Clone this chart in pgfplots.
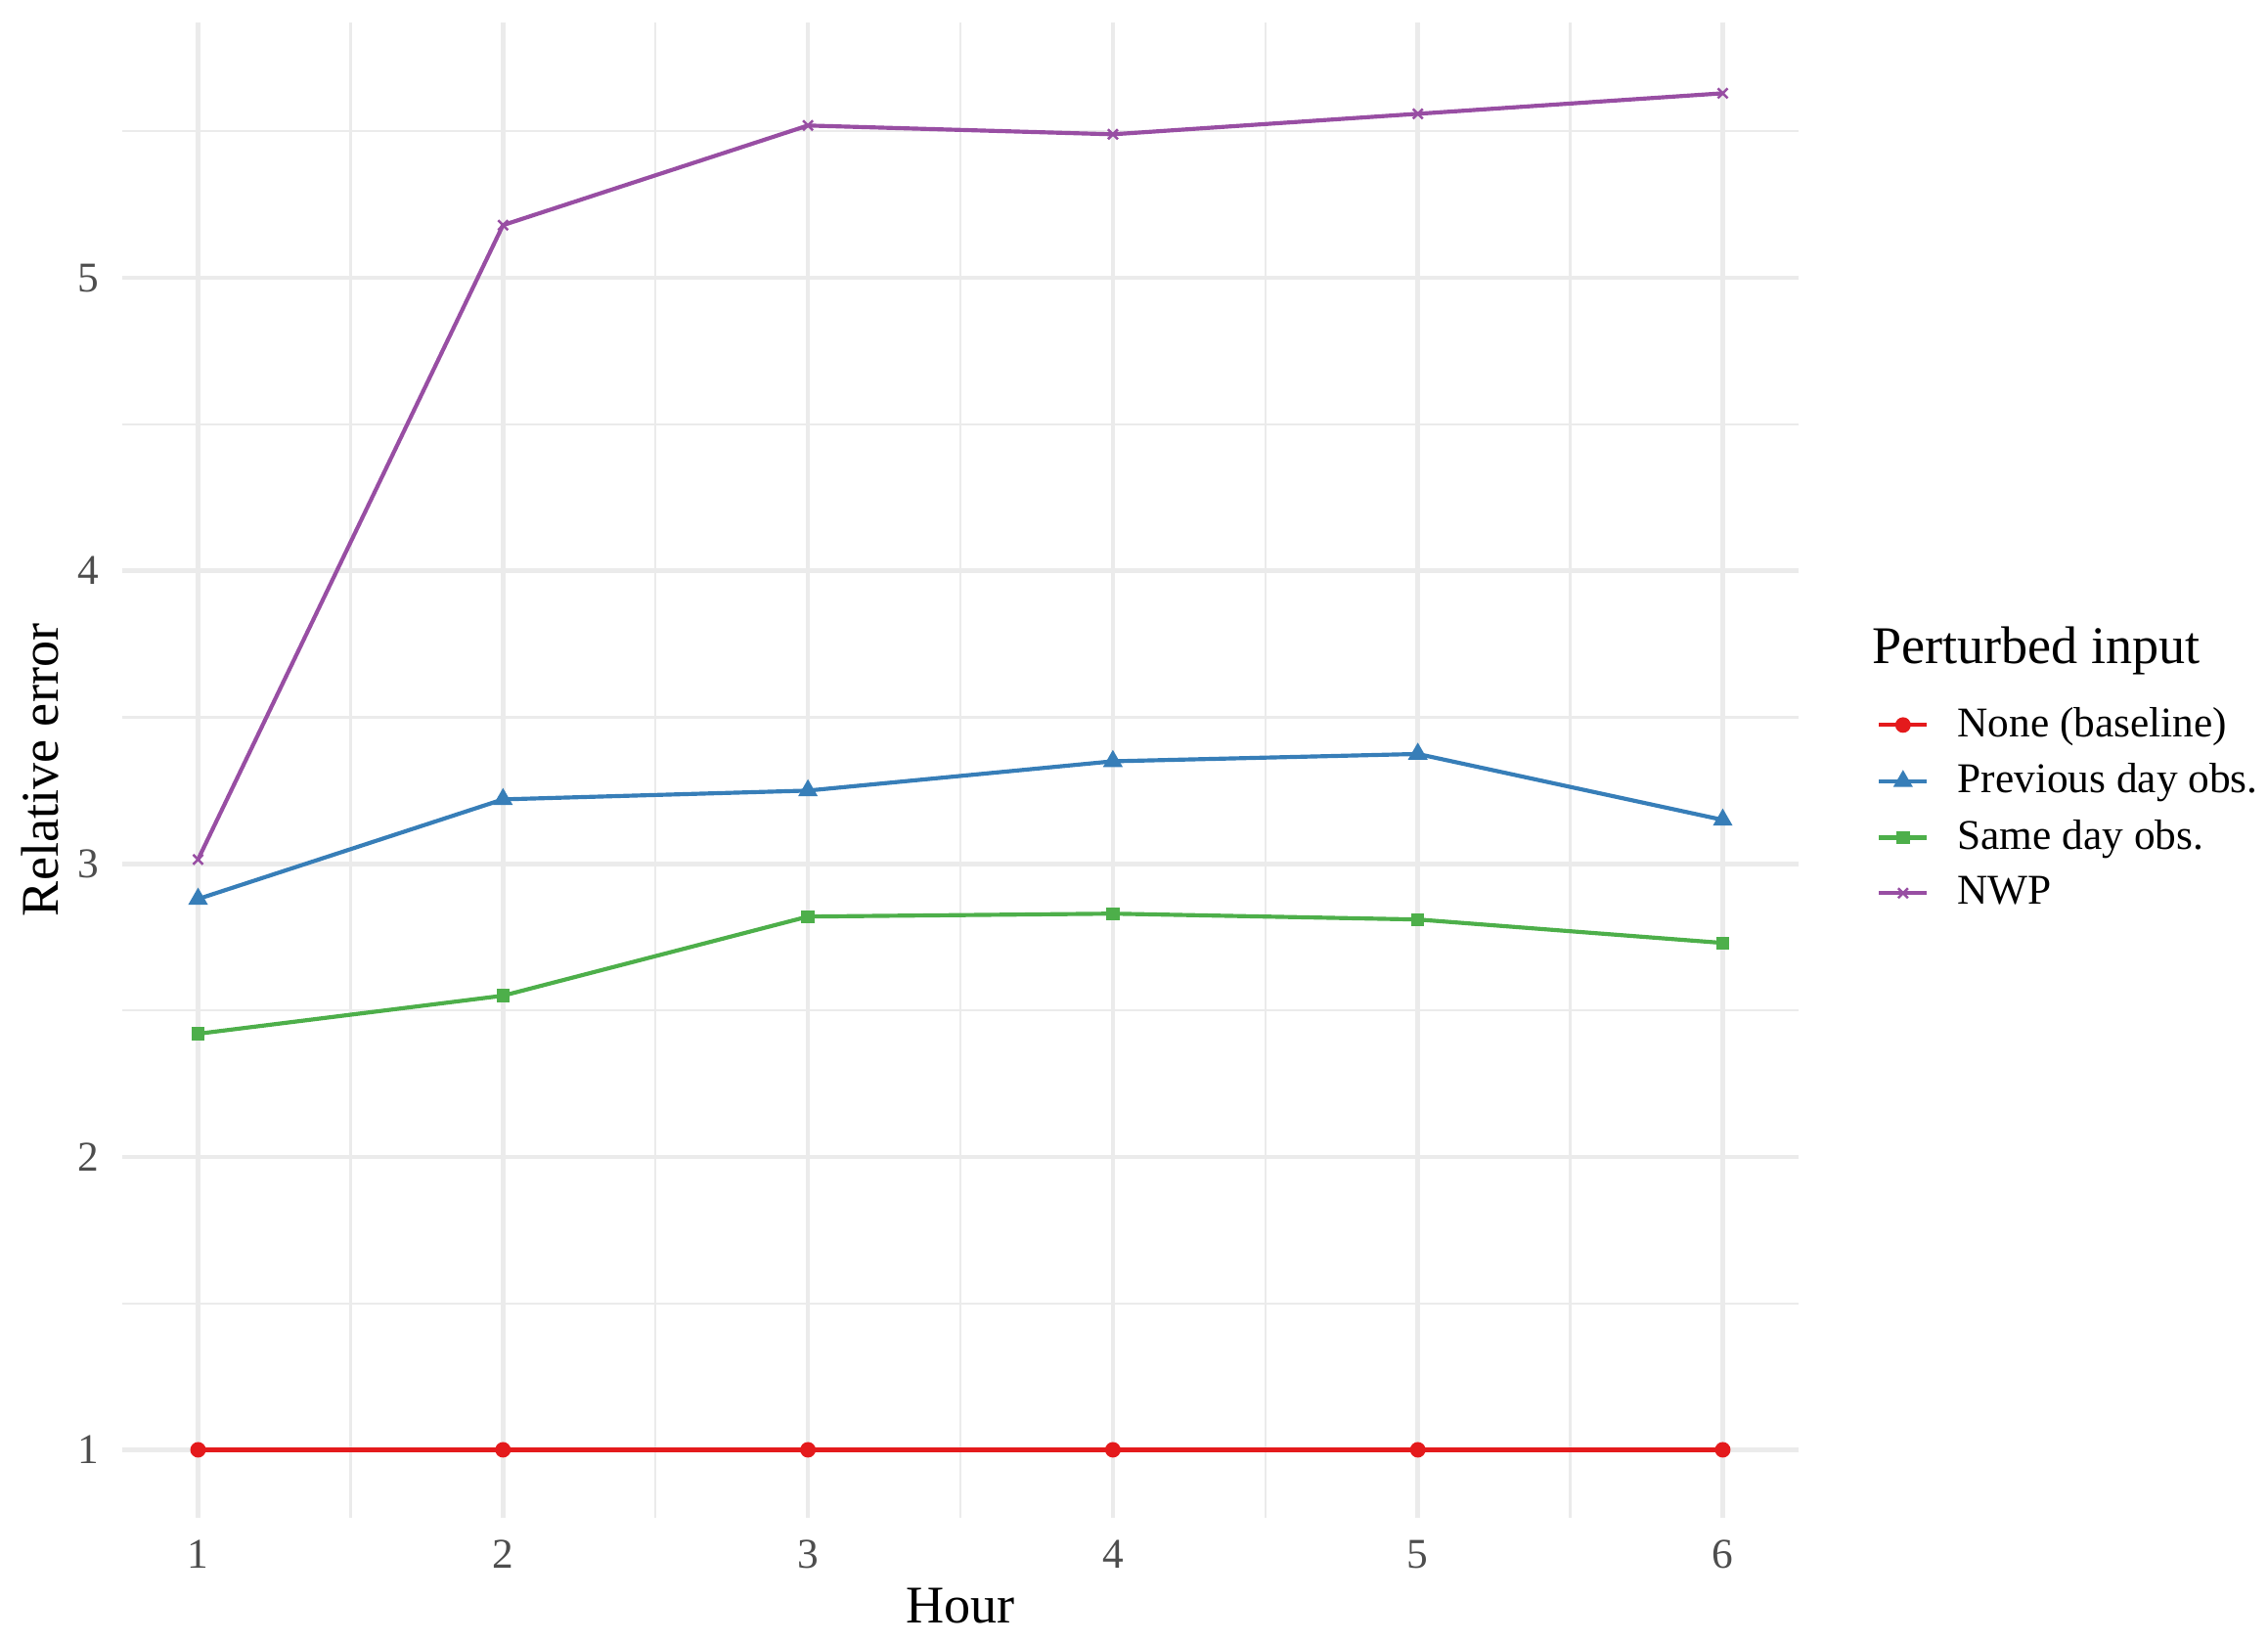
\documentclass[border=0pt]{standalone}
\usepackage{fontspec}
\setmainfont{Liberation Serif}
\usepackage{pgfplots}
\pgfplotsset{compat=1.18}
\definecolor{setred}{HTML}{E41A1C}
\definecolor{setblue}{HTML}{377EB8}
\definecolor{setgreen}{HTML}{4DAF4A}
\definecolor{setpurple}{HTML}{984EA3}
\definecolor{gridgrey}{HTML}{EBEBEB}
\definecolor{ticktext}{HTML}{4D4D4D}
\begin{document}
\begin{tikzpicture}
\useasboundingbox (0,0) rectangle (556.6pt,403.2pt);
\begin{axis}[at={(29.9pt,30.7pt)},anchor=south west,scale only axis,
  width=411.6pt,height=367pt,
  xmin=0.75,xmax=6.25,ymin=0.768,ymax=5.872,
  axis line style={draw=none},tick style={draw=none},
  xtick={1,2,3,4,5,6},ytick={1,2,3,4,5},
  minor xtick={1.5,2.5,3.5,4.5,5.5},minor ytick={1.5,2.5,3.5,4.5,5.5},
  grid=both,major grid style={gridgrey,line width=1.07pt},
  minor grid style={gridgrey,line width=0.53pt},
  tick label style={font=\fontsize{10.4}{12}\selectfont,text=ticktext},
  /pgf/number format/assume math mode=true,
  xticklabel style={yshift=-2pt},yticklabel style={xshift=-2pt},
  xlabel={Hour},ylabel={Relative error},
  label style={font=\fontsize{13}{15}\selectfont},
  xlabel style={yshift=2pt},ylabel style={yshift=-2pt},
  legend style={at={(1.046,0.548)},anchor=north west,draw=none,fill=none,
    font=\fontsize{10.4}{12}\selectfont,row sep=1.1pt,inner sep=0pt,
    /tikz/every odd column/.append style={column sep=5pt}},
  legend cell align=left,
  legend image code/.code={\draw[#1] (0pt,0pt) -- (11.8pt,0pt); \draw[#1,mark repeat=2,mark phase=2] plot coordinates {(0pt,0pt) (5.9pt,0pt) (11.8pt,0pt)};},
  clip=false]
\addplot[setred,line width=1pt,mark=*,mark size=1.4pt] coordinates {(1,1) (2,1) (3,1) (4,1) (5,1) (6,1)};
\addplot[setblue,line width=1pt,mark=triangle*,mark size=1.8pt] coordinates {(1,2.88) (2,3.22) (3,3.25) (4,3.35) (5,3.375) (6,3.15)};
\addplot[setgreen,line width=1pt,mark=square*,mark size=1.1pt] coordinates {(1,2.42) (2,2.55) (3,2.82) (4,2.83) (5,2.81) (6,2.73)};
\addplot[setpurple,line width=1pt,mark=x,mark size=1.7pt,mark options={line width=0.6pt}] coordinates {(1,3.015) (2,5.18) (3,5.52) (4,5.49) (5,5.56) (6,5.63)};
\legend{None (baseline),Previous day obs.,Same day obs.,NWP}
\node[anchor=west,inner sep=0pt,font=\fontsize{13}{15}\selectfont] at (axis description cs:1.043,0.5795) {Perturbed input};
\end{axis}
\end{tikzpicture}
\end{document}
